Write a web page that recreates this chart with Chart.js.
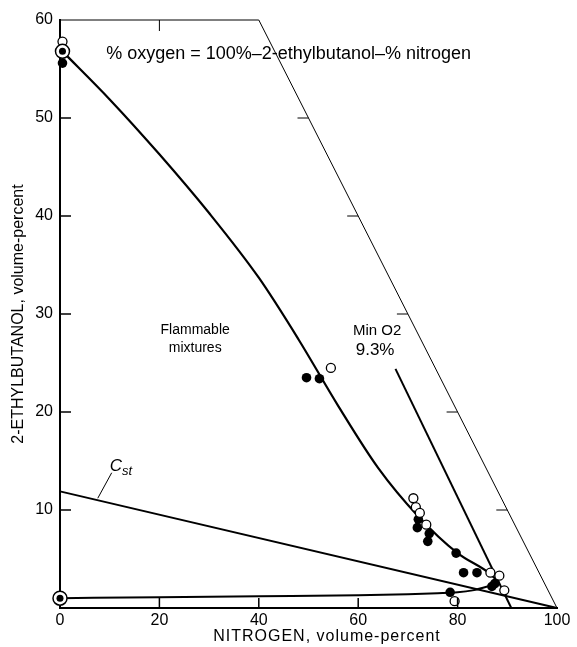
<!DOCTYPE html>
<html>
<head>
<meta charset="utf-8">
<script src="https://cdn.jsdelivr.net/npm/chart.js@4.4.1/dist/chart.umd.min.js"></script>
<style>
  html, body { margin: 0; padding: 0; background: #fff; }
  canvas { display: block; }
</style>
</head>
<body>
<canvas id="chart" width="577" height="647"></canvas>
<script>
// upper flammability limit curve
var upperX = [0.5, 10, 20, 30, 40, 48, 56, 64, 72, 80, 86.5, 88.3];
var upperY = [56.8, 51.9, 46.3, 40.3, 33.7, 27.4, 20.6, 14.3, 9.4, 5.6, 3.5, 2.6];

// lower flammability limit curve
var lowerX = [0, 20, 40, 60, 70, 76, 80, 83, 86, 88.3];
var lowerY = [1.0, 1.1, 1.2, 1.3, 1.4, 1.5, 1.6, 1.8, 2.2, 2.6];

// measured points
var openX = [0.5, 54.5, 71.1, 71.6, 72.4, 73.7, 86.6, 88.4, 89.4, 79.4];
var openY = [57.8, 24.5, 11.2, 10.3, 9.7, 8.5, 3.6, 3.3, 1.8, 0.7];

var filledX = [0.5, 49.6, 52.2, 72.1, 71.9, 74.3, 74.0, 79.7, 81.2, 83.9, 87.5, 86.9, 78.5];
var filledY = [55.6, 23.5, 23.4, 9.05, 8.2, 7.6, 6.8, 5.6, 3.6, 3.6, 2.5, 2.2, 1.6];

var bullX = [0.5, 0];
var bullY = [56.8, 1.0];

// min O2 line
var minO2X = [67.5, 90.8];
var minO2Y = [24.4, 0];

// stoichiometric line
var cstX = [0, 100];
var cstY = [11.9, 0];
var cstPointerX = [10.4, 7.6];
var cstPointerY = [13.8, 11.2];

// oxygen = 0 boundary
var boundX = [0, 40, 100];
var boundY = [60, 60, 0];

var xTicks = [0, 20, 40, 60, 80, 100];
var yTicks = [0, 10, 20, 30, 40, 50, 60];

function pts(xs, ys) {
  return xs.map(function (x, i) { return {x: x, y: ys[i]}; });
}

var FONT = '"Liberation Sans", Arial, sans-serif';

var decor = {
  id: 'decor',
  afterDatasetsDraw: function (chart) {
    var ctx = chart.ctx;
    var xs = chart.scales.x, ys = chart.scales.y;
    var a = chart.chartArea;
    ctx.save();
    ctx.strokeStyle = '#000';
    ctx.lineWidth = 1.5;
    ctx.beginPath();
    // inward ticks on bottom axis
    [20, 40, 60, 80].forEach(function (v) {
      var px = xs.getPixelForValue(v);
      ctx.moveTo(px, a.bottom);
      ctx.lineTo(px, a.bottom - 10);
    });
    // inward ticks on left axis
    [10, 20, 30, 40, 50].forEach(function (v) {
      var py = ys.getPixelForValue(v);
      ctx.moveTo(a.left, py);
      ctx.lineTo(a.left + 11, py);
    });
    ctx.stroke();
    ctx.lineWidth = 1;
    ctx.beginPath();
    // tick on top edge
    var tx = xs.getPixelForValue(20);
    ctx.moveTo(tx, ys.getPixelForValue(60));
    ctx.lineTo(tx, ys.getPixelForValue(60) + 11);
    // ticks on the diagonal
    [10, 20, 30, 40, 50].forEach(function (v) {
      var px = xs.getPixelForValue(100 - v);
      var py = ys.getPixelForValue(v);
      ctx.moveTo(px, py);
      ctx.lineTo(px - 11, py);
    });
    ctx.stroke();

    ctx.fillStyle = '#000';
    ctx.textBaseline = 'middle';
    ctx.font = '18px ' + FONT;
    ctx.textAlign = 'left';
    ctx.fillText('% oxygen = 100%\u20132-ethylbutanol\u2013% nitrogen',
      xs.getPixelForValue(9.3), ys.getPixelForValue(56.5));

    ctx.font = '14px ' + FONT;
    ctx.textAlign = 'center';
    ctx.fillText('Flammable', xs.getPixelForValue(27.2), ys.getPixelForValue(28.4));
    ctx.fillText('mixtures', xs.getPixelForValue(27.2), ys.getPixelForValue(26.5));
    ctx.font = '15px ' + FONT;
    ctx.fillText('Min O2', xs.getPixelForValue(63.8), ys.getPixelForValue(28.3));
    ctx.font = '17px ' + FONT;
    ctx.fillText('9.3%', xs.getPixelForValue(63.4), ys.getPixelForValue(26.3));

    // C_st label
    var cx = xs.getPixelForValue(10.0), cy = ys.getPixelForValue(14.5);
    ctx.textAlign = 'left';
    ctx.font = 'italic 17px ' + FONT;
    ctx.fillText('C', cx, cy);
    var w = ctx.measureText('C').width;
    ctx.font = 'italic 13px ' + FONT;
    ctx.fillText('st', cx + w, cy + 5);

    // x axis title
    ctx.font = '16px ' + FONT;
    ctx.textAlign = 'center';
    if ('letterSpacing' in ctx) ctx.letterSpacing = '1px';
    ctx.fillText('NITROGEN, volume-percent', 327, 637);
    ctx.restore();
  }
};

new Chart(document.getElementById('chart'), {
  type: 'scatter',
  data: {
    datasets: [
      {
        label: 'bull inner',
        data: pts(bullX, bullY),
        backgroundColor: '#000',
        borderColor: '#000',
        pointRadius: 3.5,
        borderWidth: 0,
        clip: false
      },
      {
        label: 'bull outer',
        data: pts(bullX, bullY),
        backgroundColor: '#fff',
        borderColor: '#000',
        pointRadius: 7,
        borderWidth: 1.5,
        clip: false
      },
      {
        label: 'open',
        data: pts(openX, openY),
        backgroundColor: '#fff',
        borderColor: '#000',
        pointRadius: 4.5,
        borderWidth: 1.3,
        clip: false
      },
      {
        label: 'filled',
        data: pts(filledX, filledY),
        backgroundColor: '#000',
        borderColor: '#000',
        pointRadius: 4.8,
        borderWidth: 0,
        clip: false
      },
      {
        type: 'line',
        label: 'upper',
        data: pts(upperX, upperY),
        borderColor: '#000',
        borderWidth: 2.2,
        pointRadius: 0,
        cubicInterpolationMode: 'monotone',
        clip: false
      },
      {
        type: 'line',
        label: 'lower',
        data: pts(lowerX, lowerY),
        borderColor: '#000',
        borderWidth: 2,
        pointRadius: 0,
        cubicInterpolationMode: 'monotone',
        clip: false
      },
      {
        type: 'line',
        label: 'min O2',
        data: pts(minO2X, minO2Y),
        borderColor: '#000',
        borderWidth: 2,
        pointRadius: 0
      },
      {
        type: 'line',
        label: 'Cst',
        data: pts(cstX, cstY),
        borderColor: '#000',
        borderWidth: 2,
        pointRadius: 0,
        clip: false
      },
      {
        type: 'line',
        label: 'Cst pointer',
        data: pts(cstPointerX, cstPointerY),
        borderColor: '#000',
        borderWidth: 1,
        pointRadius: 0
      },
      {
        type: 'line',
        label: 'oxygen zero',
        data: pts(boundX, boundY),
        borderColor: '#000',
        borderWidth: 1,
        pointRadius: 0,
        clip: false
      }
    ]
  },
  options: {
    responsive: false,
    animation: false,
    events: [],
    layout: { padding: { top: 20, right: 20, left: 0, bottom: 0 } },
    plugins: {
      legend: { display: false },
      tooltip: { enabled: false }
    },
    scales: {
      x: {
        type: 'linear',
        min: 0,
        max: 100,
        afterFit: function (s) { s.height = 39; },
        afterBuildTicks: function (s) { s.ticks = xTicks.map(function (v) { return {value: v}; }); },
        grid: { display: true, drawOnChartArea: false, drawTicks: false },
        border: { display: true, color: '#000', width: 2 },
        ticks: { color: '#000', padding: 3, maxRotation: 0, font: { family: FONT, size: 16 } },
        title: { display: false }
      },
      y: {
        type: 'linear',
        min: 0,
        max: 60,
        afterFit: function (s) { s.width = 60; },
        afterBuildTicks: function (s) { s.ticks = yTicks.map(function (v) { return {value: v}; }); },
        grid: { display: true, drawOnChartArea: false, drawTicks: false },
        border: { display: true, color: '#000', width: 2 },
        ticks: {
          color: '#000',
          padding: 7,
          font: { family: FONT, size: 16 },
          callback: function (v) { return v === 0 ? '' : v; }
        },
        title: {
          display: true,
          text: '2-ETHYLBUTANOL, volume-percent',
          color: '#000',
          font: { family: FONT, size: 16 },
          padding: { top: 9, bottom: 0 }
        }
      }
    }
  },
  plugins: [decor]
});
</script>
</body>
</html>
